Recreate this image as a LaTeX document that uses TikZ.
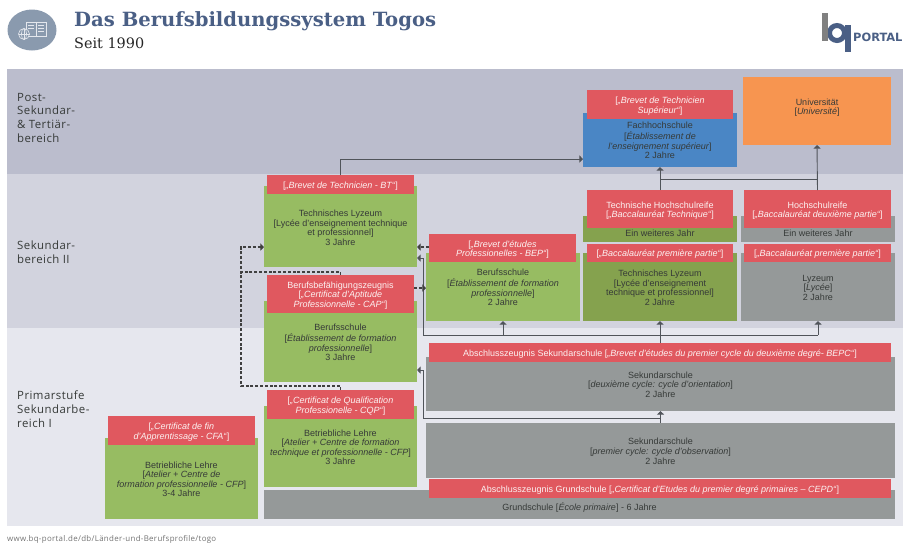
\documentclass[tikz,border=0pt]{standalone}
\usepackage{fontspec}
\setmainfont{Liberation Sans}
\newfontfamily\slabfont{DejaVu Serif}
\newfontfamily\labfont[LetterSpace=4]{Open Sans}
\newfontfamily\logofont{DejaVu Sans}
\usetikzlibrary{arrows.meta}
\definecolor{bandA}{HTML}{BBBDCD}
\definecolor{bandB}{HTML}{D2D3DE}
\definecolor{bandC}{HTML}{E6E7EE}
\definecolor{redbox}{HTML}{E0585F}
\definecolor{greenbox}{HTML}{97BC62}
\definecolor{olivebox}{HTML}{85A24E}
\definecolor{greybox}{HTML}{959999}
\definecolor{bluebox}{HTML}{4A86C5}
\definecolor{orangebox}{HTML}{F79550}
\definecolor{titleblue}{HTML}{4A5F85}
\definecolor{iconblue}{HTML}{8A9AAE}
\definecolor{txt}{HTML}{363A38}
\definecolor{linecol}{HTML}{50545A}
\tikzset{
  x=1pt,y=-1pt,
  bx/.style={inner sep=0pt,outer sep=0pt,align=center,text=txt,font=\fontsize{9}{9.6}\selectfont},
  grn/.style={bx,fill=greenbox},
  olv/.style={bx,fill=olivebox},
  gry/.style={bx,fill=greybox},
  blu/.style={bx,fill=bluebox},
  org/.style={bx,fill=orangebox},
  rd/.style={bx,fill=redbox,text=white!92!redbox},
  band/.style={inner sep=0pt,outer sep=0pt},
  lab/.style={inner sep=0pt,anchor=north west,align=left,text=txt,font=\labfont\fontsize{11.4}{13.6}\selectfont},
  conn/.style={draw=linecol,line width=0.9pt},
  arr/.style={conn,-{Triangle[length=3.6pt,width=7pt]}},
  dsh/.style={draw=black!75,line width=1.1pt,dash pattern=on 3pt off 1.8pt},
  dar/.style={dsh,-{Triangle[length=3.6pt,width=7pt]}}
}
\newcommand{\bxn}[8][2]{\node[#7,minimum width={(#5-#3)*1pt},minimum height={(#6-#4)*1pt}] (#2) at ({(#3+#5)/2},{(#4+#6)/2}) {\raisebox{-#1pt}[\height][\depth]{\begin{tabular}{@{}c@{}}#8\end{tabular}}};}
\newcommand{\bgband}[6]{\node[#6,minimum width={(#4-#2)*1pt},minimum height={(#5-#3)*1pt}] (#1) at ({(#2+#4)/2},{(#3+#5)/2}) {};}
\begin{document}
\begin{tikzpicture}
\useasboundingbox (0,0) rectangle (903,542);
\clip (0,0) rectangle (903,542);
% bands
\bgband{bandtop}{7}{69}{903}{174}{band,fill=bandA}
\bgband{bandmid}{7}{174}{903}{328}{band,fill=bandB}
\bgband{bandlow}{7}{328}{903}{526}{band,fill=bandC}
% header
\fill[fill=iconblue] (32,30) ellipse [x radius=24.5pt,y radius=20.5pt];
\begin{scope}[draw=white!85!titleblue,line width=0.6pt]
\draw (26,22) rectangle (36,36) (36,22) rectangle (46,36);
\draw (28,25) -- (34,25) (28,28) -- (34,28) (38,25) -- (44,25) (38,28) -- (44,28) (38,31) -- (44,31);
\draw[fill=iconblue] (24,34) circle (5.5pt);
\draw (18.5,34) -- (29.5,34) (24,28.5) -- (24,39.5);
\draw (24,34) ellipse [x radius=2.6pt,y radius=5.5pt];
\end{scope}
\node[anchor=base west,inner sep=0pt,text=titleblue,font=\slabfont\bfseries\fontsize{19.6}{22}\selectfont] (title) at (74,26) {Das Berufsbildungssystem Togos};
\node[anchor=base west,inner sep=0pt,text=black!85,font=\slabfont\fontsize{14.4}{16}\selectfont] (subtitle) at (74,48) {Seit 1990};
% logo
\draw[titleblue,line width=5pt] (837,33) circle (7.5pt);
\fill[titleblue] (845,25) rectangle (851,52);
\fill[black!50] (822,13) rectangle (828,41);
\node[anchor=base west,inner sep=0pt,text=titleblue,font=\logofont\bfseries\fontsize{11.4}{13}\selectfont] (portal) at (853,41) {PORTAL};
% band labels
\node[lab] (l1) at (17,93) {Post-\\Sekundar-\\\& Tertiär-\\bereich};
\node[lab] (l2) at (17,241) {Sekundar-\\bereich II};
\node[lab] (l3) at (17,391) {Primarstufe\\Sekundarbe-\\reich I};
% post-secondary
\bxn[-3]{uni}{743}{77}{891}{145}{org}{Universität\\{[}\textit{Université}{]}}
\bxn{fh}{583}{113}{737}{167}{blu}{Fachhochschule\\{[}\textit{Établissement de}\\\textit{l'enseignement supérieur}{]}\\2 Jahre}
\bxn{fhred}{587}{90}{733}{119}{rd}{{[}\textit{„Brevet de Technicien}\\\textit{Supérieur“}{]}}
% upper secondary
\bxn[6]{thr}{583}{216}{737}{242}{olv}{Ein weiteres Jahr}
\bxn{thrred}{587}{190}{733}{228}{rd}{Technische Hochschulreife\\{[}\textit{„Baccalauréat Technique“}{]}}
\bxn[6]{hr}{741}{216}{895}{242}{gry}{Ein weiteres Jahr}
\bxn{hrred}{744}{190}{891}{228}{rd}{Hochschulreife\\{[}\textit{„Baccalauréat deuxième partie“}{]}}
\bxn{tl}{583}{253}{737}{321}{olv}{Technisches Lyzeum\\{[}Lycée d'enseignement\\technique et professionnel{]}\\2 Jahre}
\bxn{tlred}{587}{244}{733}{262}{rd}{{[}\textit{„Baccalauréat première partie“}{]}}
\bxn{ly}{741}{253}{895}{321}{gry}{Lyzeum\\{[}\textit{Lycée}{]}\\2 Jahre}
\bxn{lyred}{744}{244}{891}{262}{rd}{{[}\textit{„Baccalauréat première partie“}{]}}
\bxn[2.5]{bt}{264}{186}{417}{267}{grn}{Technisches Lyzeum\\{[}Lycée d'enseignement technique\\et professionnel{]}\\3 Jahre}
\bxn{btred}{267}{175}{414}{194}{rd}{{[}\textit{„Brevet de Technicien - BT“}{]}}
\bxn{bep}{426}{253}{580}{321}{grn}{Berufsschule\\{[}\textit{Établissement de formation}\\\textit{professionnelle}{]}\\2 Jahre}
\bxn{bepred}{429}{234}{576}{262}{rd}{{[}\textit{„Brevet d'études}\\\textit{Professionelles - BEP“}{]}}
\bxn[2.5]{cap}{264}{301}{417}{382}{grn}{Berufsschule\\{[}\textit{Établissement de formation}\\\textit{professionnelle}{]}\\3 Jahre}
\bxn{capred}{267}{275}{414}{313}{rd}{Berufsbefähigungszeugnis\\{[}\textit{„Certificat d'Aptitude}\\\textit{Professionnelle - CAP“}{]}}
% lower
\bxn{sek2}{426}{357}{895}{411}{gry}{Sekundarschule\\{[}\textit{deuxième cycle: cycle d'orientation}{]}\\2 Jahre}
\bxn{bepc}{429}{343}{891}{362}{rd}{Abschlusszeugnis Sekundarschule {[}\textit{„Brevet d'études du premier cycle du deuxième degré- BEPC“}{]}}
\bxn{sek1}{426}{423}{895}{478}{gry}{Sekundarschule\\{[}\textit{premier cycle: cycle d'observation}{]}\\2 Jahre}
\bxn[3.4]{gs}{264}{490}{895}{519}{gry}{Grundschule {[}\textit{École primaire}{]} - 6 Jahre}
\bxn{cepd}{429}{479}{891}{498}{rd}{Abschlusszeugnis Grundschule {[}\textit{„Certificat d'Etudes du premier degré primaires – CEPD“}{]}}
\bxn{cqp}{264}{406}{417}{487}{grn}{Betriebliche Lehre\\{[}\textit{Atelier + Centre de formation}\\\textit{technique et professionnelle - CFP}{]}\\3 Jahre}
\bxn{cqpred}{267}{390}{414}{419}{rd}{{[}\textit{„Certificat de Qualification}\\\textit{Professionelle - CQP“}{]}}
\bxn{cfa}{105}{438}{258}{519}{grn}{Betriebliche Lehre\\{[}\textit{Atelier + Centre de}\\\textit{formation professionnelle - CFP}{]}\\3-4 Jahre}
\bxn{cfared}{108}{416}{255}{445}{rd}{{[}\textit{„Certificat de fin}\\\textit{d'Apprentissage - CFA“}{]}}
% footer
\node[anchor=base west,inner sep=0pt,text=black!55,font=\labfont\fontsize{7.9}{9}\selectfont] (foot) at (7,541) {www.bq-portal.de/db/Länder-und-Berufsprofile/togo};
% junction points
\coordinate (fhin) at (583,159);
\coordinate (ja) at (660,179.5);
\coordinate (jb) at (817.5,179.5);
\coordinate (jc) at (423,335);
\coordinate (je) at (503,335);
\coordinate (jf) at (818,335);
\coordinate (btin) at (417,258);
\coordinate (jg) at (423,258);
\coordinate (capin) at (417,370);
\coordinate (jh) at (423,370);
\coordinate (ji) at (423,418);
\coordinate (jj) at (660.5,418);
\coordinate (bepout) at (429,247);
\coordinate (btr) at (417,247);
\coordinate (capout) at (414,288);
\coordinate (bepl) at (426,288);
\coordinate (dl) at (241,272);
\coordinate (dt) at (340.5,272);
\coordinate (dc) at (340.5,386);
\coordinate (db) at (241,386);
\coordinate (dm) at (241,247);
\coordinate (btl) at (264,247);
% solid connectors
\draw[arr] (btred.north) |- (fhin);
\draw[arr] (thrred.north) -- (fh.south);
\draw[arr] (hrred.north) -- (uni.south);
\draw[conn] (ja) -- (jb);
\draw[arr] (bepc.north) -- (tl.south);
\draw[conn] (jc) -- (jf);
\draw[arr] (jf) -- (ly.south);
\draw[arr] (je) -- (bep.south -| je);
\draw[arr] (jc) -- (jg) -- (btin);
\draw[arr] (sek1.north) -- (sek2.south);
\draw[arr] (jj) -- (ji) -- (jh) -- (capin);
% dashed connectors
\draw[dar] (bepout) -- (btr);
\draw[dar] (capout) -- (bepl);
\draw[dar] (cqpred.north) -- (dc) -- (db) -- (dm) -- (btl);
\draw[dsh] (capred.north) -- (dt) -- (dl);
\end{tikzpicture}
\end{document}
